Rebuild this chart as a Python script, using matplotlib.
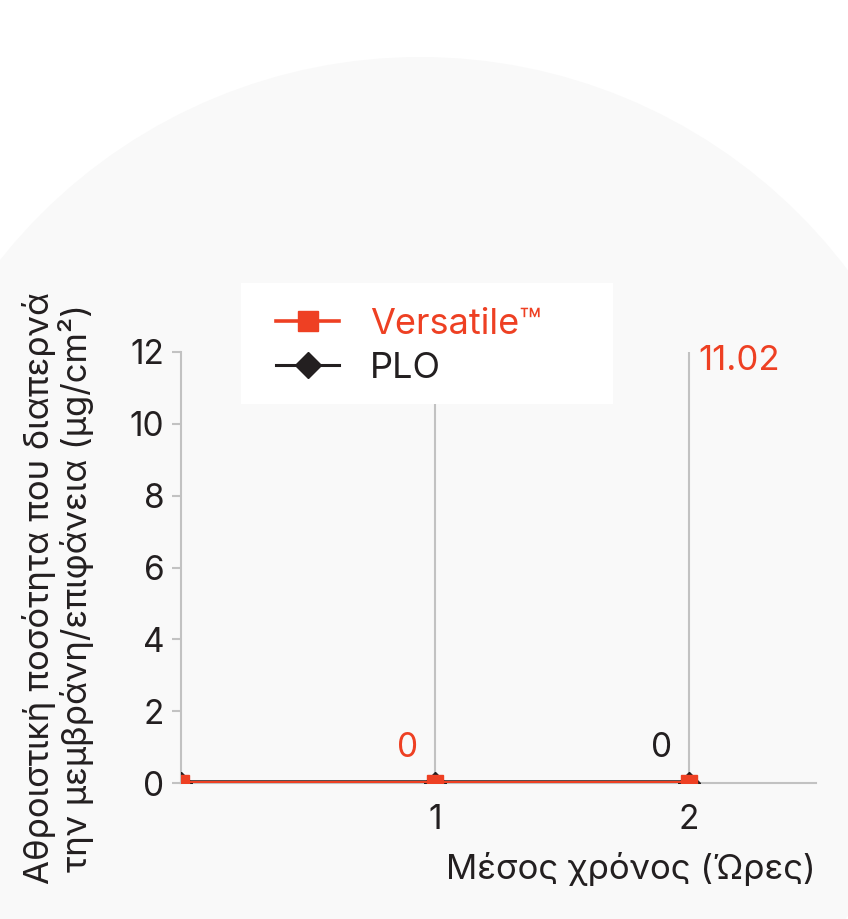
import matplotlib
matplotlib.use("Agg")
import matplotlib.pyplot as plt
from matplotlib.patches import Ellipse, Rectangle
from matplotlib.lines import Line2D

# ---- data ----
hours = [0, 1, 2]
versatile = [0, 0, 0]
plo = [0, 0, 0]
series_names = ["Versatile™", "PLO"]
y_ticks = [0, 2, 4, 6, 8, 10, 12]
x_ticks = [1, 2]
# value labels: (x, y, text, series)
value_labels = [(1, 0, "0", "Versatile™"), (2, 0, "0", "PLO"), (2, 11.02, "11.02", "Versatile™")]
x_label = "Μέσος χρόνος (Ώρες)"
y_label = "Αθροιστική ποσότητα που διαπερνά\nτην μεμβράνη/επιφάνεια (μg/cm²)"

RED = "#ee4023"
BLACK = "#231f20"
GRAY = "#c2c2c2"

plt.rcParams['font.family'] = ['Inter', 'DejaVu Sans']

W, H = 848, 919
fig = plt.figure(figsize=(W / 100, H / 100), dpi=100)
fig.patch.set_facecolor("white")

# background circle
R = 536
circ = Ellipse((420 / W, 1 - 593 / H), 2 * R / W, 2 * R / H, transform=fig.transFigure,
               facecolor="#f9f9f9", edgecolor="none", zorder=-10)
fig.add_artist(circ)

ax = fig.add_axes([181 / W, 1 - 783 / H, 635 / W, 431 / H])
ax.patch.set_alpha(0)

ax.plot(hours, plo, color=BLACK, lw=4.0, marker="D", ms=11, zorder=3, clip_on=True)
ax.plot(hours, versatile, color=RED, lw=3.0, marker="s", ms=11.5, zorder=4, clip_on=True)

ax.set_xlim(0, 2.5)
ax.set_ylim(0, 12)
ax.set_yticks(y_ticks)
ax.set_xticks(x_ticks)

for s in ["top", "right"]:
    ax.spines[s].set_visible(False)
for s in ["left", "bottom"]:
    ax.spines[s].set_color(GRAY)
    ax.spines[s].set_linewidth(1.5)

ax.tick_params(axis="y", length=6.5, width=1.5, color=GRAY, pad=5.5, labelsize=24, labelcolor=BLACK)
ax.tick_params(axis="x", length=0, pad=15, labelsize=24, labelcolor=BLACK)

for xv in x_ticks:
    ax.axvline(xv, color=GRAY, lw=1.5, zorder=1)

colors = {"Versatile™": RED, "PLO": BLACK}
for (xv, yv, txt, ser) in value_labels:
    if txt == "11.02":
        ax.annotate(txt, (xv, yv), xytext=(7, 19), textcoords="offset points",
                    ha="left", va="center", fontsize=25, color=colors[ser], zorder=6)
    else:
        ax.annotate(txt, (xv, yv), xytext=(-20, 25), textcoords="offset points",
                    ha="center", va="center", fontsize=24, color=colors[ser], zorder=6)

ax.set_xlabel(x_label, fontsize=25, color=BLACK, loc="right", labelpad=12)

fig.text(58 / W, 1 - 588 / H, y_label, rotation=90, ha="center", va="center",
         multialignment="center", fontsize=25, color=BLACK, linespacing=1.1)

# legend box
rect = Rectangle((241 / W, 1 - 404 / H), 372 / W, 121 / H, transform=fig.transFigure,
                 facecolor="white", edgecolor="none", zorder=5)
fig.add_artist(rect)
handles = [Line2D([], [], color=RED, lw=2.6, marker="s", ms=14),
           Line2D([], [], color=BLACK, lw=2.2, marker="D", ms=13)]
leg = fig.legend(handles, series_names, loc="upper left",
                 bbox_to_anchor=(258 / W, 1 - 290 / H), frameon=False, fontsize=26,
                 handlelength=1.75, handletextpad=0.85, labelspacing=0.3, borderpad=0)
leg.set_zorder(6)
leg.get_texts()[0].set_color(RED)
leg.get_texts()[1].set_color(BLACK)

fig.savefig("out.png", dpi=100)
